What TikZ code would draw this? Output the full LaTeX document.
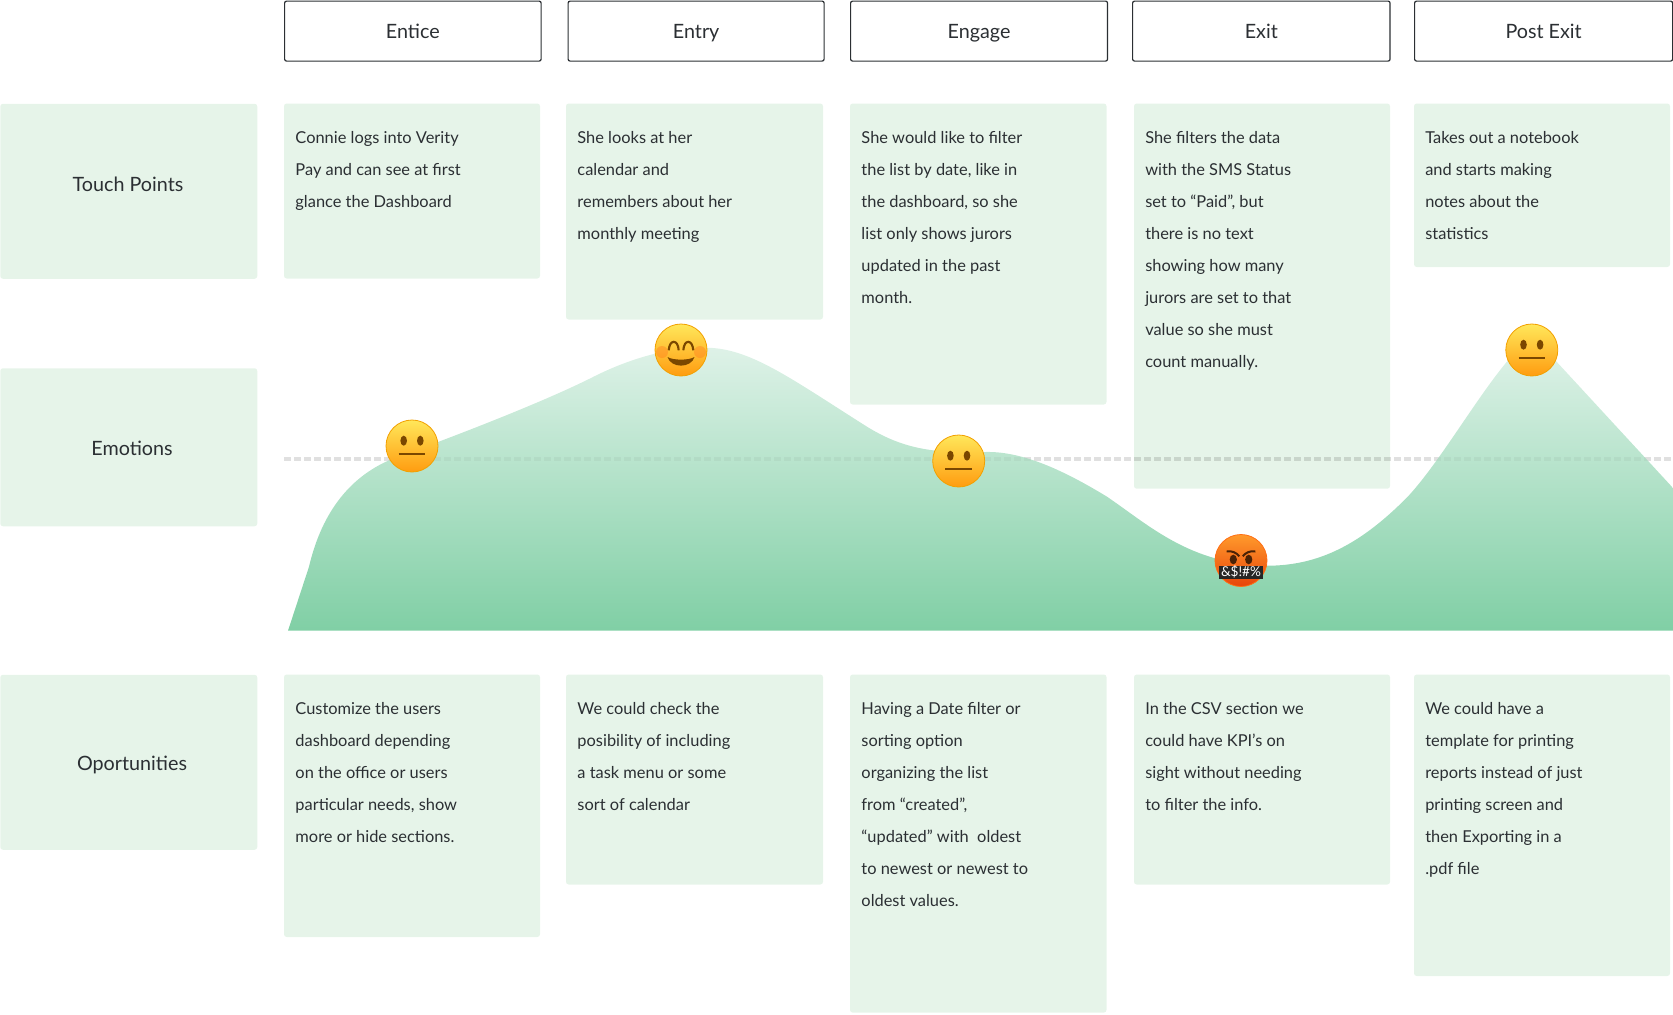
\documentclass[tikz,border=0pt]{standalone}
\usepackage{fontspec}
\setmainfont{Lato}
\definecolor{cardgreen}{HTML}{E6F4E9}
\definecolor{inkgrey}{HTML}{2B2F33}
\definecolor{areatop}{HTML}{DFF2E8}
\definecolor{areamid}{HTML}{A3DCBE}
\definecolor{areabot}{HTML}{80CFA5}
\definecolor{eyebrown}{HTML}{7A4700}
\definecolor{faceedge}{HTML}{F2A000}
\definecolor{facetop}{HTML}{FFE75A}
\definecolor{facemid}{HTML}{FFC81E}
\definecolor{facebot}{HTML}{FF9C10}
\definecolor{cheekred}{HTML}{FF7A1E}
\definecolor{angrytop}{HTML}{FF9A2C}
\definecolor{angrymid}{HTML}{FF6E14}
\definecolor{angrybot}{HTML}{E8440A}
\definecolor{angryeye}{HTML}{4A2206}
\tikzset{
  stagebox/.style={draw=inkgrey,line width=0.9pt,rounded corners=1.5pt,anchor=north west,inner sep=0pt,
    text=inkgrey,font=\fontsize{14.8pt}{17pt}\selectfont,text height=14pt,text depth=2.2pt,minimum height=45pt},
  rowbox/.style={fill=cardgreen,rounded corners=2pt,anchor=north west,inner sep=0pt,minimum width=192.75pt},
  rowlabel/.style={anchor=base,inner sep=0pt,text=inkgrey,font=\fontsize{14.8pt}{17pt}\selectfont},
  card/.style={fill=cardgreen,rounded corners=2pt},
  cardtext/.style={anchor=north west,inner sep=0pt,align=left,text=inkgrey,
    font=\fontsize{12.3pt}{24pt}\selectfont,execute at begin node=\rule{0pt}{14pt}},
  midline/.style={black,line width=2.7pt,dash pattern=on 4.9pt off 2.6pt},
  yellowface/.style={draw=faceedge,line width=0.6pt,top color=facetop,middle color=facemid,bottom color=facebot},
  angryface/.style={draw=angrymid,line width=0.6pt,top color=angrytop,middle color=angrymid,bottom color=angrybot},
  facepos/.style={yscale=-1},
  pics/neutralface/.style={code={
    \draw [yellowface] (0,0) circle (26);
    \fill [eyebrown] (-8.3,-5.3) ellipse (3.3 and 5);
    \fill [eyebrown] (8.3,-5.3) ellipse (3.3 and 5);
    \draw [eyebrown,line width=1.5pt] (-13.3,8) -- (13.3,8);
  }},
  pics/happyface/.style={code={
    \draw [yellowface] (0,0) circle (26);
    \fill [cheekred,opacity=0.4] (-19,2) circle (6);
    \fill [cheekred,opacity=0.4] (19,2) circle (6);
    \draw [eyebrown,line width=1.6pt] (-12.3,0.3) .. controls (-11.5,-11) and (-3,-11) .. (-2.3,0.3);
    \draw [eyebrown,line width=1.6pt] (2.3,0.3) .. controls (3,-11) and (11.5,-11) .. (12.3,0.3);
    \fill [eyebrown] (-13.5,7) .. controls (-8,10.5) and (8,10.5) .. (13.5,7) .. controls (10,18.5) and (-10,18.5) .. (-13.5,7) -- cycle;
  }},
  pics/cursingface/.style={code={
    \draw [angryface] (0,0) circle (26);
    \fill [angryeye] (-7.7,-1) ellipse (3.6 and 4.8);
    \fill [angryeye] (7.7,-1) ellipse (3.6 and 4.8);
    \draw [angryeye,line width=1.5pt] (-14.3,-9) .. controls (-9,-10) and (-5,-8) .. (-1.7,-4.3);
    \draw [angryeye,line width=1.5pt] (14.3,-9) .. controls (9,-10) and (5,-8) .. (1.7,-4.3);
  }}
}
\begin{document}
\begin{tikzpicture}[x=0.75pt,y=0.75pt,yscale=-1]
\useasboundingbox (0,0) rectangle (1673,1014);

%Shape: Rectangle row one cards
\fill [card] (284,103.5) rectangle (540,278.5);
\fill [card] (566,103.5) rectangle (823,319.5);
\fill [card] (850,103.5) rectangle (1106.5,404.5);
\fill [card] (1134,103.5) rectangle (1390,488.7);
\fill [card] (1414,103.5) rectangle (1670,267);
%Shape: Rectangle row three cards
\fill [card] (284,674.5) rectangle (540,937);
\fill [card] (566,674.5) rectangle (823,884.5);
\fill [card] (850,674.5) rectangle (1106.5,1012.6);
\fill [card] (1134,674.5) rectangle (1390,884.5);
\fill [card] (1414,674.5) rectangle (1670,976);

%Straight Lines
\draw [midline,opacity=0.09] (284,458.7) -- (1673,458.7);
%Curve Lines emotion area
\shade [top color=areatop,middle color=areamid,bottom color=areabot] (288,630.7) -- (309,566.7)
  .. controls (320,520) and (345,475) .. (400,456)
  .. controls (450,438) and (541,403) .. (591,378)
  .. controls (630,358) and (670,347) .. (706,347.7)
  .. controls (750,348) and (790,378) .. (867,426.7)
  .. controls (900,447) and (930,454) .. (985,452)
  .. controls (1020,451) and (1060,468) .. (1107,496.7)
  .. controls (1150,526) and (1190,564) .. (1266,565.7)
  .. controls (1320,566) and (1362,543) .. (1407.7,496.7)
  .. controls (1440,462) and (1478,395) .. (1510,358)
  .. controls (1520,345) and (1540,345) .. (1555,360)
  -- (1673,488) -- (1673,630.7) -- cycle;
%Straight Lines
\draw [midline,opacity=0.035] (284,458.7) -- (1673,458.7);

%Shape: Circle emotion faces
\pic [facepos] at (412,446) {neutralface};
\pic [facepos] at (681,350) {happyface};
\pic [facepos] at (958.7,461) {neutralface};
\pic [facepos] at (1241,560.5) {cursingface};
\pic [facepos] at (1531.8,350) {neutralface};
% Text Node
\node (cursetext) at (1241,572) [fill=black!85,text=white,inner sep=0pt,minimum width=33pt,minimum height=9.75pt,font=\fontsize{10.2pt}{10pt}\selectfont] {\&\$!\#\%};

% Text Node
\node (stageentice) at (284,0.5) [stagebox,minimum width=192.4pt] {Entice};
% Text Node
\node (stageentry) at (567.5,0.5) [stagebox,minimum width=192pt] {Entry};
% Text Node
\node (stageengage) at (850,0.5) [stagebox,minimum width=192.7pt] {Engage};
% Text Node
\node (stageexit) at (1132,0.5) [stagebox,minimum width=193.1pt] {Exit};
% Text Node
\node (stagepost) at (1414,0.5) [stagebox,minimum width=193.5pt] {Post Exit};

%Shape: Rectangle row labels
\node (rowtouch) at (0,103.5) [rowbox,minimum height=131.25pt] {};
\node (rowemotions) at (0,368) [rowbox,minimum height=118.5pt] {};
\node (rowoport) at (0,674.5) [rowbox,minimum height=131.25pt] {};
% Text Node
\node (labeltouch) at (128,191.7) [rowlabel] {Touch Points};
% Text Node
\node (labelemotions) at (132,455.5) [rowlabel] {Emotions};
% Text Node
\node (labeloport) at (132,770.5) [rowlabel] {Oportunities};

% Text Node
\node (touchentice) at (295.2,131.1) [cardtext] {Connie logs into Verity\\Pay and can see at first\\glance the Dashboard};
% Text Node
\node (touchentry) at (577.2,131.1) [cardtext] {She looks at her\\calendar and\\remembers about her\\monthly meeting};
% Text Node
\node (touchengage) at (861.2,131.1) [cardtext] {She would like to filter\\the list by date, like in\\the dashboard, so she\\list only shows jurors\\updated in the past\\month.};
% Text Node
\node (touchexit) at (1145,131.1) [cardtext] {She filters the data\\with the SMS Status\\set to “Paid”, but\\there is no text\\showing how many\\jurors are set to that\\value so she must\\count manually.};
% Text Node
\node (touchpost) at (1425,131.1) [cardtext] {Takes out a notebook\\and starts making\\notes about the\\statistics};

% Text Node
\node (opentice) at (295.2,702.5) [cardtext] {Customize the users\\dashboard depending\\on the office or users\\particular needs, show\\more or hide sections.};
% Text Node
\node (opentry) at (577.2,702.5) [cardtext] {We could check the\\posibility of including\\a task menu or some\\sort of calendar};
% Text Node
\node (opengage) at (861.2,702.5) [cardtext] {Having a Date filter or\\sorting option\\organizing the list\\from “created”,\\“updated” with~ oldest\\to newest or newest to\\oldest values.};
% Text Node
\node (opexit) at (1145,702.5) [cardtext] {In the CSV section we\\could have KPI’s on\\sight without needing\\to filter the info.};
% Text Node
\node (oppost) at (1425,702.5) [cardtext] {We could have a\\template for printing\\reports instead of just\\printing screen and\\then Exporting in a\\.pdf file};

\end{tikzpicture}
\end{document}
